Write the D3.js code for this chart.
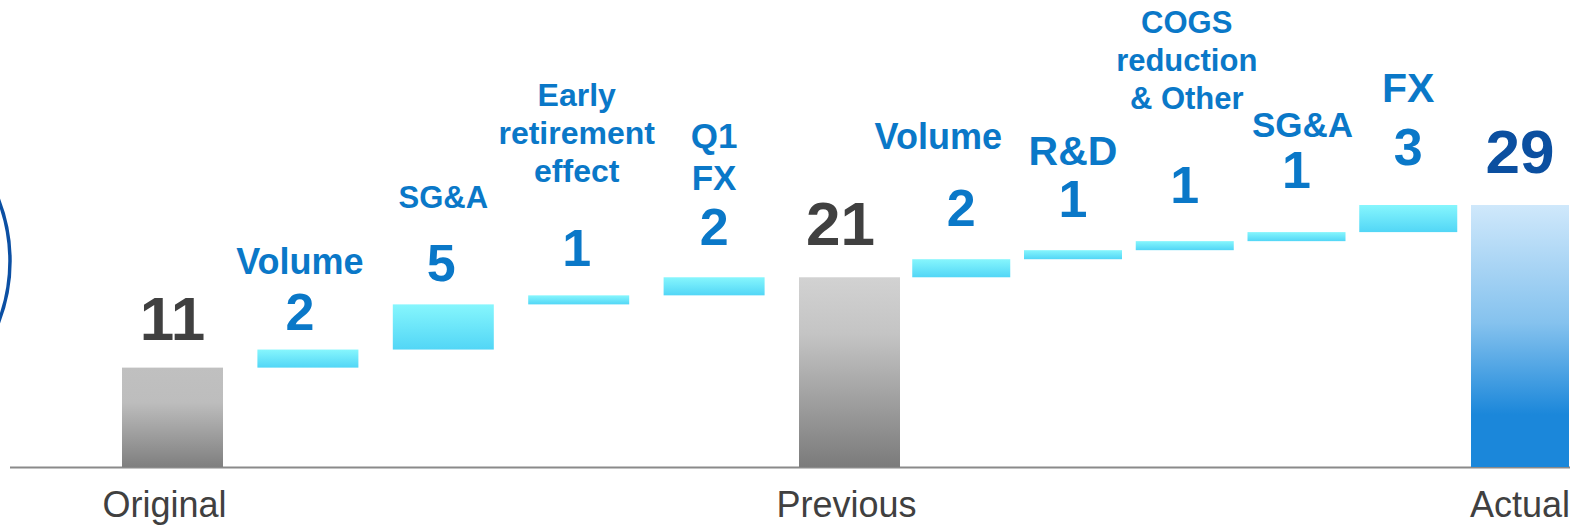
<!DOCTYPE html>
<html>
<head>
<meta charset="utf-8">
<script src="https://cdn.jsdelivr.net/npm/d3@7"></script>
<style>
  html, body { margin: 0; padding: 0; background: #fff; }
  svg { display: block; }
</style>
</head>
<body>
<div id="chart"></div>
<script>
// ---- data ----
const categories = ["Original", "Volume", "SG&A", "Early retirement effect", "Q1 FX", "Previous",
                    "Volume", "R&D", "COGS reduction & Other", "SG&A", "FX", "Actual"];
const kinds      = ["total", "delta", "delta", "delta", "delta", "total",
                    "delta", "delta", "delta", "delta", "delta", "total"];
const values     = [11, 2, 5, 1, 2, 21, 2, 1, 1, 1, 3, 29];
const nameLines  = [[], ["Volume"], ["SG&A"], ["Early", "retirement", "effect"], ["Q1", "FX"], [],
                    ["Volume"], ["R&D"], ["COGS", "reduction", "& Other"], ["SG&A"], ["FX"], []];
const axisLabels = ["Original", "Previous", "Actual"];

// ---- layout (styling only) ----
const W = 1570, H = 527;
const baseY = 467;
const valueGap = [28, 20, 23, 29, 32, 32, 33, 33, 38, 44, 40, 32];
const nameGap  = [0, 56, 73, 84, 55, 0, 77, 52, 94, 51, 63, 0];
const nameSize = [0, 36, 31, 32, 35, 0, 36, 41, 31, 35, 41, 0];
const lineH    = [0, 0, 0, 38, 42, 0, 0, 0, 38, 0, 0, 0];
const nameDx   = [0, -8, 0, -2, 0, 0, -23, 0, 2, 6, 0, 0];
const valueDx  = [0, -8, -2, -2, 0, -9, 0, 0, 0, 0, 0, 0];

// waterfall running positions
let run = 0;
const rows = values.map((v, i) => {
  let y0, y1;
  if (kinds[i] === "total") { y0 = 0; y1 = v; run = v; }
  else { y0 = run; y1 = run + v; run = y1; }
  return { i, cat: categories[i], kind: kinds[i], v, y0, y1, lines: nameLines[i] };
});

const x = d3.scaleLinear().domain([0, 5, 11]).range([172.5, 849.5, 1520]);
const y = d3.scaleLinear().domain([0, 29]).range([baseY, 205]);
const barW = i => (i <= 5 ? 101 : 98);

const svg = d3.select("#chart").append("svg").attr("width", W).attr("height", H);
const defs = svg.append("defs");

function grad(id, stops) {
  const g = defs.append("linearGradient").attr("id", id)
    .attr("x1", 0).attr("y1", 0).attr("x2", 0).attr("y2", 1);
  stops.forEach(s => g.append("stop").attr("offset", s[0]).attr("stop-color", s[1]));
}
grad("gDelta", [[0, "#86f6fd"], [1, "#52d6f6"]]);
grad("gOrig", [[0, "#c0c0c0"], [0.35, "#bdbdbd"], [1, "#7f7f7f"]]);
grad("gPrev", [[0, "#d2d2d2"], [0.3, "#c4c4c4"], [1, "#7b7b7b"]]);
grad("gAct", [[0, "#cfe8fb"], [0.45, "#85c2ee"], [0.8, "#1b87da"], [1, "#1b87da"]]);

// decorative circle at left edge
svg.append("circle").attr("cx", -160).attr("cy", 261).attr("r", 170)
  .attr("fill", "none").attr("stroke", "#0b4fa3").attr("stroke-width", 3.5);

// baseline
svg.append("line").attr("x1", 10).attr("x2", W).attr("y1", baseY + 0.5).attr("y2", baseY + 0.5)
  .attr("stroke", "#8a8a8a").attr("stroke-width", 2);

// bars
const fillFor = d => d.kind === "delta" ? "url(#gDelta)" :
  (d.i === 0 ? "url(#gOrig)" : d.i === 5 ? "url(#gPrev)" : "url(#gAct)");
svg.append("g").selectAll("rect").data(rows).join("rect")
  .attr("x", d => x(d.i) - barW(d.i) / 2)
  .attr("width", d => barW(d.i))
  .attr("y", d => y(d.y1))
  .attr("height", d => y(d.y0) - y(d.y1))
  .attr("fill", fillFor);

const font = "'Liberation Sans', Arial, Helvetica, sans-serif";

// value labels
svg.append("g").selectAll("text").data(rows).join("text")
  .attr("x", d => x(d.i) + valueDx[d.i])
  .attr("y", d => y(d.y1) - valueGap[d.i])
  .attr("text-anchor", "middle")
  .attr("font-family", font).attr("font-weight", "bold")
  .attr("font-size", d => d.kind === "total" ? 62 : 52)
  .attr("fill", d => d.kind === "delta" ? "#0a78c8" : (d.i === 11 ? "#0b4fa0" : "#404040"))
  .text(d => d.v);

// name labels
const nameG = svg.append("g");
rows.filter(d => d.lines.length).forEach(d => {
  const lastBase = y(d.y1) - valueGap[d.i] - nameGap[d.i];
  const n = d.lines.length;
  d.lines.forEach((ln, k) => {
    nameG.append("text")
      .attr("x", x(d.i) + nameDx[d.i])
      .attr("y", lastBase - (n - 1 - k) * lineH[d.i])
      .attr("text-anchor", "middle")
      .attr("font-family", font).attr("font-weight", "bold")
      .attr("font-size", nameSize[d.i])
      .attr("fill", "#0a78c8")
      .text(ln);
  });
});

// axis labels for totals
const totals = rows.filter(d => d.kind === "total");
svg.append("g").selectAll("text").data(totals).join("text")
  .attr("x", (d, k) => x(d.i) - (k === 0 ? 8 : k === 1 ? 3 : 0))
  .attr("y", 517)
  .attr("text-anchor", "middle")
  .attr("font-family", font)
  .attr("font-size", 36)
  .attr("fill", "#404040")
  .text((d, k) => axisLabels[k]);
</script>
</body>
</html>
